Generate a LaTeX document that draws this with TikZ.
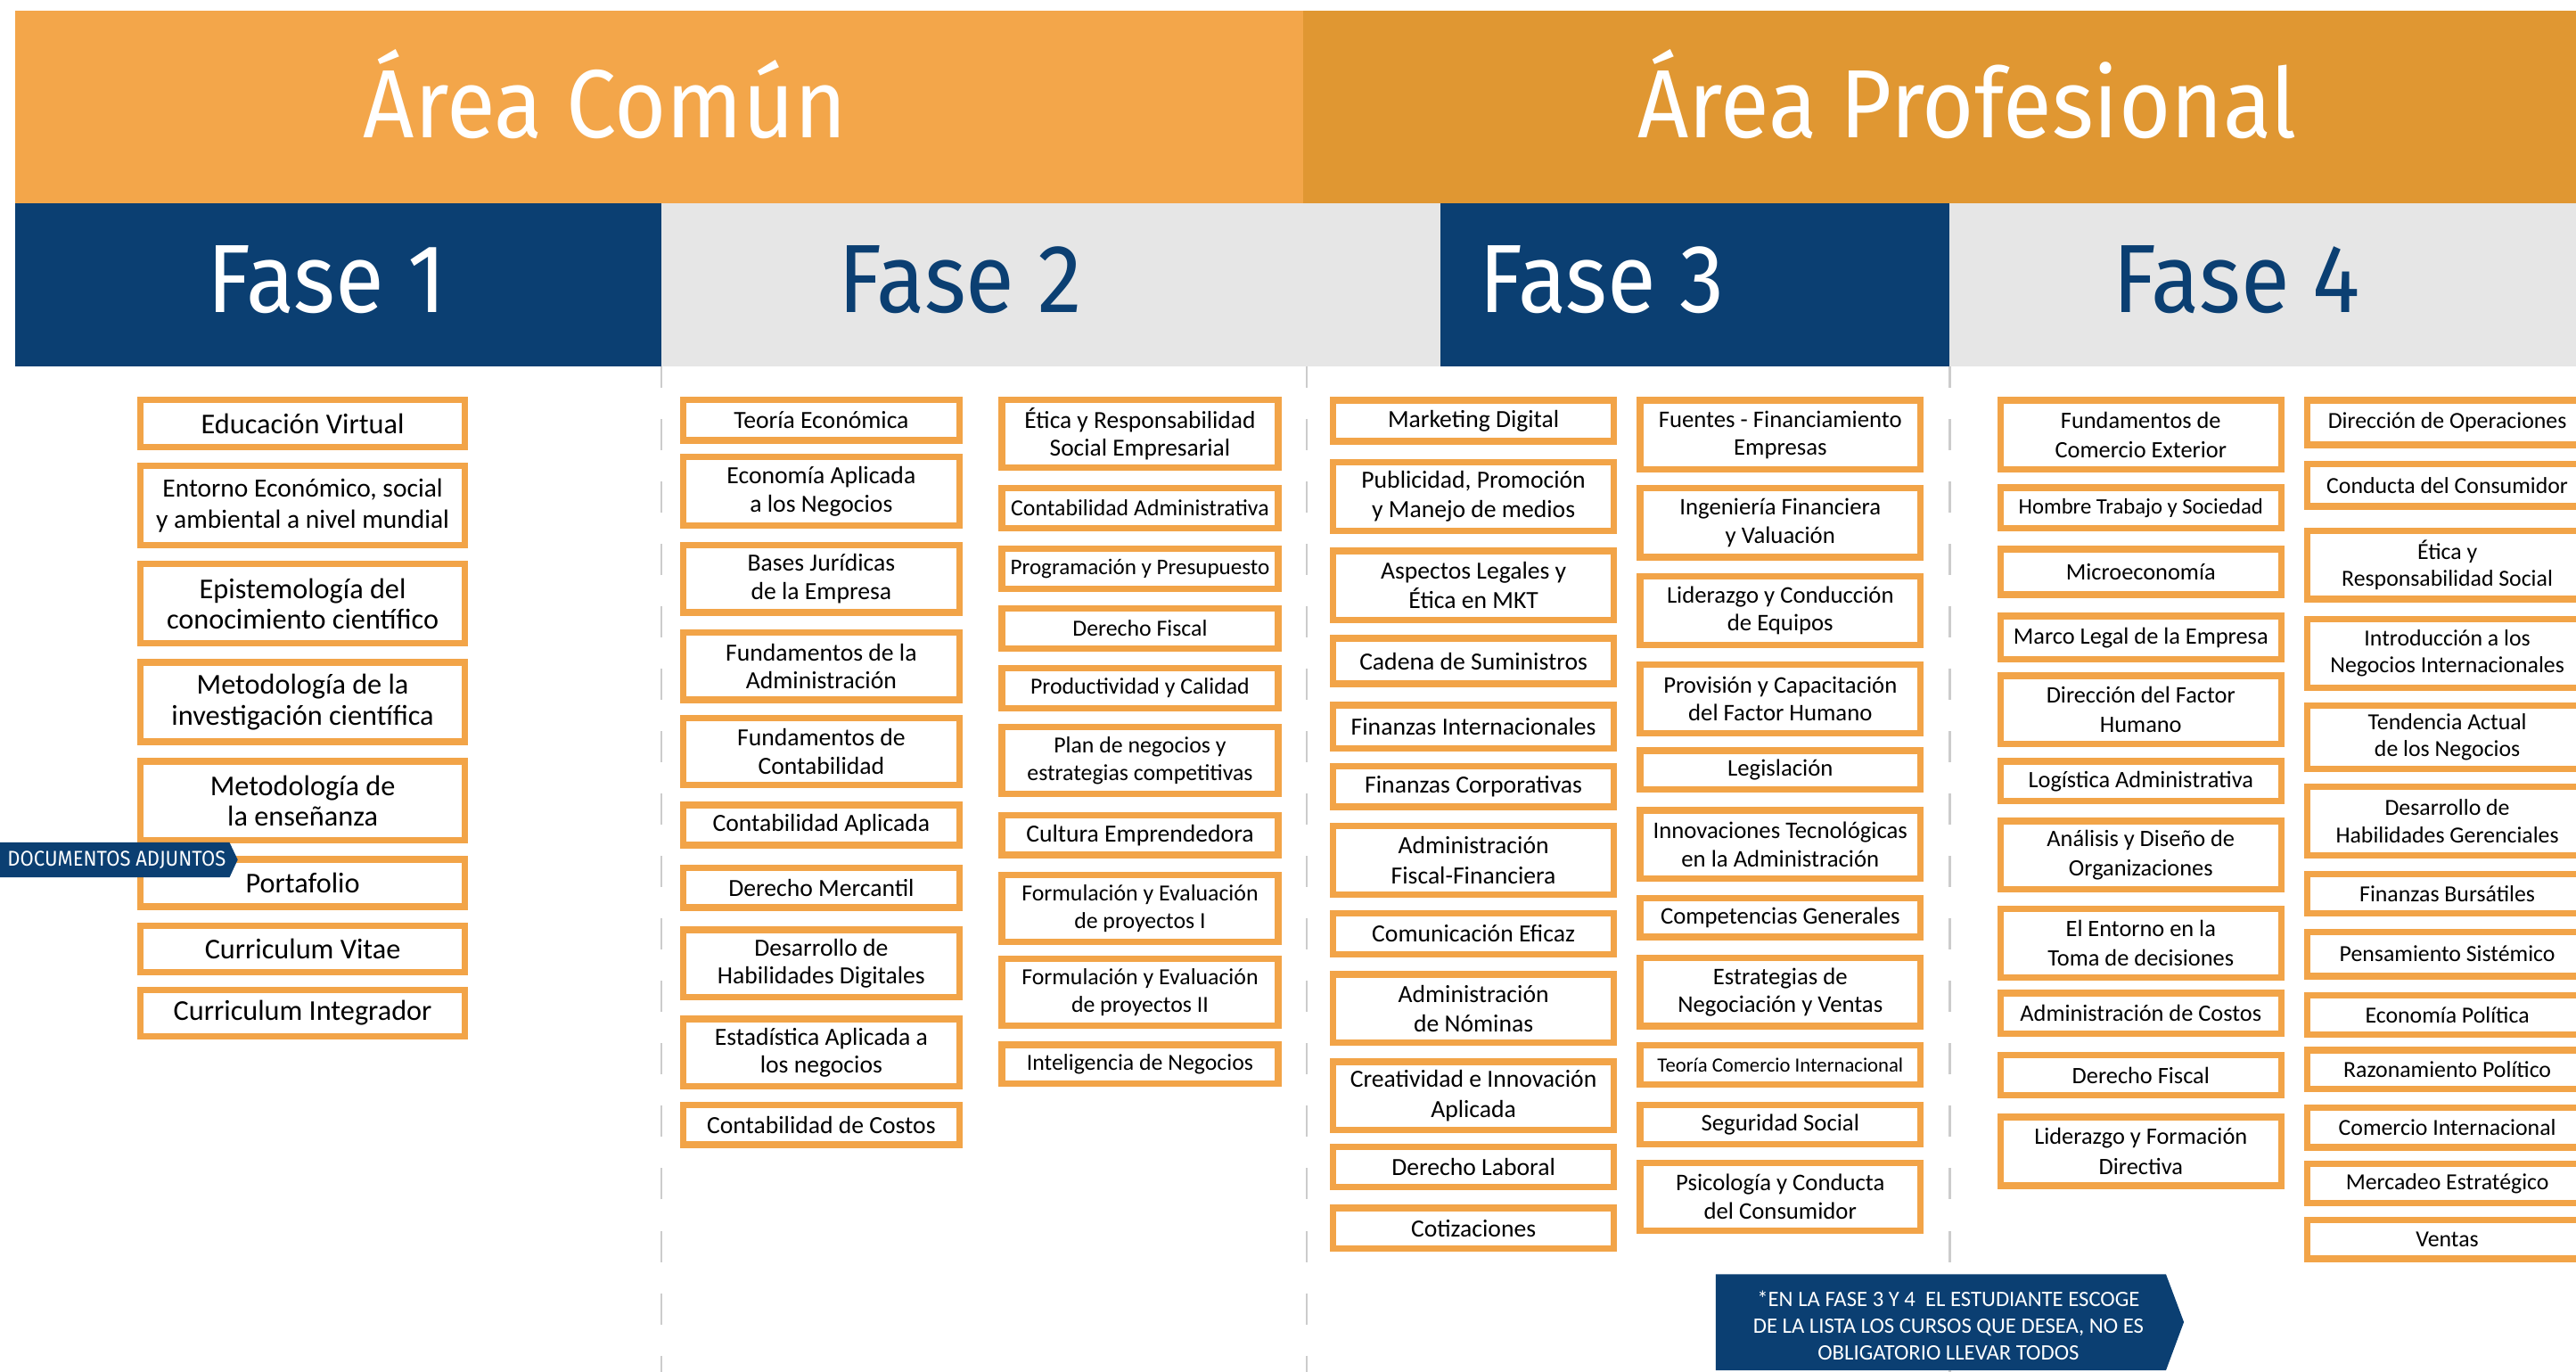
\documentclass[tikz,border=0pt]{standalone}
\usepackage{fontspec}
\setmainfont{Carlito}
\newfontfamily\barfont[FakeStretch=0.92]{Fira Sans}
\usetikzlibrary{positioning}
\definecolor{naranja}{RGB}{242,164,72}
\definecolor{naranjaA}{RGB}{243,166,74}
\definecolor{naranjaB}{RGB}{224,151,50}
\definecolor{azul}{RGB}{11,63,114}
\definecolor{gris}{RGB}{230,230,230}
\definecolor{grisl}{RGB}{204,204,204}
\tikzset{
  curso/.style={draw=naranja, line width=4pt, fill=white, inner sep=0pt, align=center, text=black},
  titulo/.style={font=\barfont\fontsize{59}{61}\selectfont, anchor=base},
  sep/.style={grisl, line width=1.4pt, dash pattern=on 19pt off 19pt, dash phase=5.8pt}
}
% [opciones]{nombre}{izq}{der}{arriba}{abajo}{texto}
\newcommand{\curso}[7][]
	{
	\node[curso, #1, minimum width={#4-#3-4}, minimum height={#6-#5-4}] (#2) at ({(#3+#4)/2},{(#5+#6)/2}) {#7};
	}

\begin{document}
\begin{tikzpicture}[x=1pt,y=-1pt]
    \useasboundingbox (0,0) rectangle (1568,835);
    \clip (0,0) rectangle (1568,835);
    \fill[naranjaA] (9.2,6.5) rectangle (793,123.7);
    \fill[naranjaB] (793,6.5) rectangle (1568,123.7);
    \fill[azul] (9.2,123.7) rectangle (402.5,222.8);
    \fill[gris] (402.5,123.7) rectangle (877,222.8);
    \fill[azul] (877,123.7) rectangle (1186.8,222.8);
    \fill[gris] (1186.8,123.7) rectangle (1568,222.8);
    \node[titulo, text=white] (comun) at (368.5,83.7) {Área Común};
    \node[titulo, text=white] (prof) at (1197.5,83.7) {Área Profesional};
    \node[titulo, text=white] (fase1) at (199,190) {Fase 1};
    \node[titulo, text=azul] (fase2) at (584.5,190) {Fase 2};
    \node[titulo, text=white] (fase3) at (975,190) {Fase 3};
    \node[titulo, text=azul] (fase4) at (1361.5,190) {Fase 4};
    \foreach \x in {402.5,795.3,1186.8} \draw[sep] (\x,222.8) -- (\x,835);
    % Fase 1
    \begin{scope}[curso/.append style={font=\fontsize{17.5}{18.7}\selectfont}]
    \foreach \nom/\ya/\yb/\txt in {F1a/241.5/274/{Educación Virtual},
        F1c/341.3/393.6/{Epistemología del\\conocimiento científico},
        F1d/401.1/453.4/{Metodología de la\\investigación científica},
        F1e/461.4/513.4/{Metodología de\\la enseñanza},
        F1f/521/553.8/{Portafolio},
        F1g/561.6/593.7/{Curriculum Vitae},
        F1h/600.5/632.6/{Curriculum Integrador}}
        \curso{\nom}{83.5}{285}{\ya}{\yb}{\txt};
    \curso[font=\fontsize{16}{18.7}\selectfont]{F1b}{83.5}{285}{281.5}{333.8}{Entorno Económico, social\\y ambiental a nivel mundial}
    \end{scope}
    % Fase 2
    \begin{scope}[curso/.append style={font=\fontsize{15}{17.2}\selectfont}]
    \foreach \nom/\ya/\yb/\txt in {F2a/241.5/270/{Teoría Económica},
        F2b/276/322/{Economía Aplicada\\a los Negocios},
        F2c/329.7/374.7/{Bases Jurídicas\\de la Empresa},
        F2d/383/428/{Fundamentos de la\\Administración},
        F2e/435/479.8/{Fundamentos de\\Contabilidad},
        F2f/488/516.4/{Contabilidad Aplicada},
        F2g/526.3/554.3/{Derecho Mercantil},
        F2h/563.9/609/{Desarrollo de\\Habilidades Digitales},
        F2i/618.2/663.2/{Estadística Aplicada a\\los negocios},
        F2j/670.4/698.7/{Contabilidad de Costos}}
        \curso{\nom}{413.8}{586}{\ya}{\yb}{\txt};
    \end{scope}
    \begin{scope}[curso/.append style={font=\fontsize{14}{17}\selectfont}]
    \foreach \nom/\ya/\yb/\txt in {F2l/295/323.4/{Contabilidad Administrativa},
        F2n/368.4/396.6/{Derecho Fiscal},
        F2o/404.8/433/{Productividad y Calidad},
        F2p/440.6/485.2/{Plan de negocios y\\estrategias competitivas},
        F2r/530.5/575.1/{Formulación y Evaluación\\de proyectos I},
        F2s/581.5/626.3/{Formulación y Evaluación\\de proyectos II},
        F2t/633.9/661.4/{Inteligencia de Negocios}}
        \curso{\nom}{607.8}{780}{\ya}{\yb}{\txt};
    \curso[font=\fontsize{14.9}{17.2}\selectfont]{F2k}{607.8}{780}{241.5}{286.6}{Ética y Responsabilidad\\Social Empresarial}
    \curso[font=\fontsize{13.6}{16}\selectfont]{F2m}{607.8}{780}{332}{360.4}{Programación y Presupuesto}
    \curso[font=\fontsize{15}{17}\selectfont]{F2q}{607.8}{780}{494.1}{522.3}{Cultura Emprendedora}
    \end{scope}
    % Fase 3
    \begin{scope}[curso/.append style={font=\fontsize{15}{18}\selectfont}]
    \foreach \nom/\ya/\yb/\txt in {F3a/241.6/270.6/{Marketing Digital},
        F3b/279.4/325.2/{Publicidad, Promoción\\y Manejo de medios},
        F3c/333.3/379.3/{Aspectos Legales y\\Ética en MKT},
        F3d/386.5/418.2/{Cadena de Suministros},
        F3e/427.2/457.5/{Finanzas Internacionales},
        F3f/464.4/493/{Finanzas Corporativas},
        F3g/500.7/546.5/{Administración\\Fiscal-Financiera},
        F3h/553.9/582.7/{Comunicación Eficaz},
        F3i/591/636.4/{Administración\\de Nóminas},
        F3j/644.2/689.6/{Creatividad e Innovación\\Aplicada},
        F3k/696/724.4/{Derecho Laboral},
        F3l/733.2/762/{Cotizaciones}}
        \curso{\nom}{809.4}{984.4}{\ya}{\yb}{\txt};
    \end{scope}
    \begin{scope}[curso/.append style={font=\fontsize{14.5}{17}\selectfont}]
    \foreach \nom/\ya/\yb/\txt in {F3m/241.6/287.6/{Fuentes - Financiamiento\\Empresas},
        F3n/295.2/341/{Ingeniería Financiera\\y Valuación},
        F3o/348.9/394.6/{Liderazgo y Conducción\\de Equipos},
        F3p/402.4/448.2/{Provisión y Capacitación\\del Factor Humano},
        F3q/454.9/482.5/{Legislación},
        F3r/491.2/536.8/{Innovaciones Tecnológicas\\en la Administración},
        F3s/544.6/572.2/{Competencias Generales},
        F3t/580.9/626.5/{Estrategias de\\Negociación y Ventas},
        F3v/670.6/698.5/{Seguridad Social},
        F3w/705.6/751/{Psicología y Conducta\\del Consumidor}}
        \curso{\nom}{996.2}{1171.1}{\ya}{\yb}{\txt};
    \curso[font=\fontsize{12.3}{14}\selectfont]{F3u}{996.2}{1171.1}{634.3}{661.9}{Teoría Comercio Internacional}
    \end{scope}
    % Fase 4
    \begin{scope}[curso/.append style={font=\fontsize{14.3}{18}\selectfont}]
    \foreach \nom/\ya/\yb/\txt in {F4a/241.6/287.6/{Fundamentos de\\Comercio Exterior},
        F4c/332.2/363.9/{Microeconomía},
        F4d/372.9/403.3/{Marco Legal de la Empresa},
        F4e/409.3/454.7/{Dirección del Factor\\Humano},
        F4f/461.3/489.4/{Logística Administrativa},
        F4g/497.6/543.3/{Análisis y Diseño de\\Organizaciones},
        F4h/551.1/596.8/{El Entorno en la\\Toma de decisiones},
        F4i/602.5/631/{Administración de Costos},
        F4j/640.1/668.6/{Derecho Fiscal},
        F4k/677.8/723.5/{Liderazgo y Formación\\Directiva}}
        \curso{\nom}{1215.6}{1390.6}{\ya}{\yb}{\txt};
    \curso[font=\fontsize{13.4}{16}\selectfont]{F4b}{1215.6}{1390.6}{294.8}{323.4}{Hombre Trabajo y Sociedad}
    \end{scope}
    \begin{scope}[curso/.append style={font=\fontsize{14}{16.5}\selectfont}]
    \foreach \nom/\ya/\yb/\txt in {F4l/241.6/272.7/{Dirección de Operaciones},
        F4m/280.3/310.2/{Conducta del Consumidor},
        F4n/321/366.6/{Ética y\\Responsabilidad Social},
        F4o/374.9/420.5/{Introducción a los\\Negocios Internacionales},
        F4p/427.3/470/{Tendencia Actual\\de los Negocios},
        F4q/476.9/522.5/{Desarrollo de\\Habilidades Gerenciales},
        F4r/530.1/557.9/{Finanzas Bursátiles},
        F4s/565.2/596/{Pensamiento Sistémico},
        F4t/603.6/631.5/{Economía Política},
        F4u/637.2/664.8/{Razonamiento Político},
        F4v/672.1/700.2/{Comercio Internacional},
        F4w/706.4/734.2/{Mercadeo Estratégico},
        F4x/740.6/768/{Ventas}}
        \curso{\nom}{1402.3}{1577}{\ya}{\yb}{\txt};
    \end{scope}
    % etiquetas
    \fill[azul] (0,512.7) -- (139.7,512.7) -- (144.7,523.2) -- (139.7,534) -- (0,534) -- cycle;
    \node[text=white, font=\barfont\fontsize{13}{15}\selectfont, inner sep=0pt] (docs) at (71,523.3) {DOCUMENTOS ADJUNTOS};
    \fill[azul] (1044.3,775.5) -- (1318.4,775.5) -- (1329.3,804.6) -- (1318.4,834) -- (1044.3,834) -- cycle;
    \node[text=white, align=center, font=\fontsize{13.4}{16.3}\selectfont, inner sep=0pt] (nota) at (1186,806.5) {*EN LA FASE 3 Y 4~ EL ESTUDIANTE ESCOGE\\DE LA LISTA LOS CURSOS QUE DESEA, NO ES\\OBLIGATORIO LLEVAR TODOS};
\end{tikzpicture}
\end{document}
